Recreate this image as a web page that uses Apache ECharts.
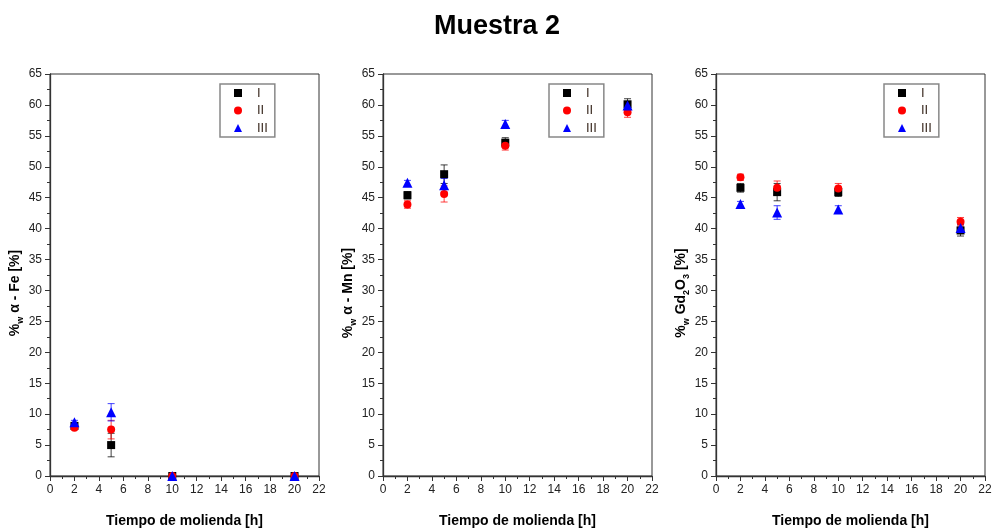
<!DOCTYPE html>
<html><head><meta charset="utf-8">
<script src="https://cdn.jsdelivr.net/npm/echarts@6/dist/echarts.min.js"></script>
<style>html,body{margin:0;padding:0;background:#fff}#c{width:994px;height:532px}</style>
</head><body><div id="c"></div>
<script>
var title = "Muestra 2";
var xName = "Tiempo de molienda [h]";
var times = [2, 5, 10, 20];
var seriesNames = ["I", "II", "III"];
var xTicks = [0, 2, 4, 6, 8, 10, 12, 14, 16, 18, 20, 22];
var yTicks = [0, 5, 10, 15, 20, 25, 30, 35, 40, 45, 50, 55, 60, 65];

// Panel 1: alpha-Fe
var feI = [8.1, 5.0, 0, 0];
var feII = [7.8, 7.5, 0, 0];
var feIII = [8.7, 10.3, 0, 0];
var feErrI = [0.3, 1.9, 0, 0];
var feErrII = [0.3, 1.5, 0, 0];
var feErrIII = [0.3, 1.4, 0, 0];
// Panel 2: alpha-Mn
var mnI = [45.4, 48.8, 53.9, 60.1];
var mnII = [43.9, 45.6, 53.4, 58.8];
var mnIII = [47.4, 47.0, 56.9, 59.9];
var mnErrI = [0.6, 1.5, 0.8, 0.9];
var mnErrII = [0.6, 1.3, 0.7, 0.8];
var mnErrIII = [0.4, 1.1, 0.6, 0.5];
// Panel 3: Gd2O3
var gdI = [46.6, 45.9, 45.9, 39.7];
var gdII = [48.3, 46.6, 46.5, 41.1];
var gdIII = [44.0, 42.6, 43.1, 40.1];
var gdErrI = [0.7, 1.4, 0.7, 0.9];
var gdErrII = [0.5, 1.1, 0.8, 0.7];
var gdErrIII = [0.4, 1.1, 0.6, 0.6];

var panels = [
  {vals: [feI, feII, feIII], errs: [feErrI, feErrII, feErrIII],
   yName: "{p|%}{s|w}{p| α - Fe [%]}"},
  {vals: [mnI, mnII, mnIII], errs: [mnErrI, mnErrII, mnErrIII],
   yName: "{p|%}{s|w}{p| α - Mn [%]}"},
  {vals: [gdI, gdII, gdIII], errs: [gdErrI, gdErrII, gdErrIII],
   yName: "{p|%}{s|w}{p| Gd}{s|2}{p|O}{s|3}{p| [%]}"}
];
var gridLefts = [50, 383, 716];
var legendLefts = [220, 549, 884];
var colors = ["#000000", "#ff0000", "#0000ff"];
var symbols = ["rect", "circle", "triangle"];
var symSizes = [8, 8, 10];
var FONT = "Liberation Sans, Arial, sans-serif";

var grids = [], xAxes = [], yAxes = [], series = [], legends = [];
panels.forEach(function (p, k) {
  grids.push({left: gridLefts[k], top: 74, width: 269, height: 402, show: true,
    outerBoundsMode: "none", containLabel: false,
    borderColor: "#333", borderWidth: 1, backgroundColor: "transparent"});
  xAxes.push({type: "value", gridIndex: k, min: xTicks[0], max: xTicks[xTicks.length - 1], interval: 2,
    name: xName, nameLocation: "middle", nameGap: 38,
    nameTextStyle: {fontFamily: FONT, fontWeight: "bold", fontSize: 14, color: "#000"},
    axisLine: {onZero: false, lineStyle: {color: "#333", width: 1.3}},
    axisTick: {inside: false, length: 5, lineStyle: {color: "#333"}},
    minorTick: {show: true, splitNumber: 2, length: 3, lineStyle: {color: "#333"}},
    splitLine: {show: false},
    axisLabel: {fontFamily: FONT, fontSize: 12, color: "#222", margin: 8}});
  yAxes.push({type: "value", gridIndex: k, min: yTicks[0], max: yTicks[yTicks.length - 1], interval: 5,
    name: p.yName, nameLocation: "middle", nameGap: 24, nameRotate: 90,
    nameTextStyle: {padding: [0, 36, 0, 0], rich: {
      p: {fontFamily: FONT, fontWeight: "bold", fontSize: 14, color: "#000", lineHeight: 20, verticalAlign: "bottom"},
      s: {fontFamily: FONT, fontWeight: "bold", fontSize: 9, color: "#000", lineHeight: 20, verticalAlign: "bottom", padding: [0, 0, -3, 0]}
    }},
    axisLine: {onZero: false, lineStyle: {color: "#333", width: 1.3}},
    axisTick: {inside: false, length: 5, lineStyle: {color: "#333"}},
    minorTick: {show: true, splitNumber: 2, length: 3, lineStyle: {color: "#333"}},
    splitLine: {show: false},
    axisLabel: {fontFamily: FONT, fontSize: 12, color: "#222", margin: 8}});
  for (var s = 0; s < 3; s++) {
    var vals = p.vals[s], errs = p.errs[s];
    var errData = times.map(function (t, i) { return [t, vals[i], errs[i]]; });
    (function (col) {
      series.push({type: "custom", xAxisIndex: k, yAxisIndex: k, z: 2, silent: true,
        data: errData,
        renderItem: function (params, api) {
          var x = api.value(0), y = api.value(1), e = api.value(2);
          if (!e) return null;
          var top = api.coord([x, y + e]), bot = api.coord([x, y - e]);
          var hw = 3.5;
          var st = {stroke: col, lineWidth: 1, opacity: 0.75};
          return {type: "group", children: [
            {type: "line", shape: {x1: top[0], y1: top[1], x2: bot[0], y2: bot[1]}, style: st},
            {type: "line", shape: {x1: top[0] - hw, y1: top[1], x2: top[0] + hw, y2: top[1]}, style: st},
            {type: "line", shape: {x1: bot[0] - hw, y1: bot[1], x2: bot[0] + hw, y2: bot[1]}, style: st}
          ]};
        }});
    })(colors[s]);
    series.push({type: "scatter", name: seriesNames[s], xAxisIndex: k, yAxisIndex: k, z: 3,
      symbol: symbols[s], symbolSize: symSizes[s], itemStyle: {color: colors[s], opacity: 1},
      data: times.map(function (t, i) { return [t, vals[i]]; })});
  }
  legends.push({left: legendLefts[k], top: 84, orient: "vertical", show: true,
    data: seriesNames.map(function (n, i) { return {name: n, icon: symbols[i], itemStyle: {color: colors[i]}}; }),
    padding: [2, 7, 2, 14], itemWidth: 8, itemHeight: 8, itemGap: 3.5,
    borderColor: "#888", borderWidth: 1.5, selectedMode: false,
    textStyle: {fontFamily: FONT, fontSize: 13, lineHeight: 14, color: "#3a2a20", padding: [0, 0, 0, 10]}});
});

var chart = echarts.init(document.getElementById("c"), null, {renderer: "canvas"});
chart.setOption({
  animation: false,
  backgroundColor: "#fff",
  title: {text: title, left: "center", top: 8,
    textStyle: {fontFamily: FONT, fontWeight: "bold", fontSize: 27, color: "#000"}},
  grid: grids, xAxis: xAxes, yAxis: yAxes, legend: legends, series: series
});
</script></body></html>
